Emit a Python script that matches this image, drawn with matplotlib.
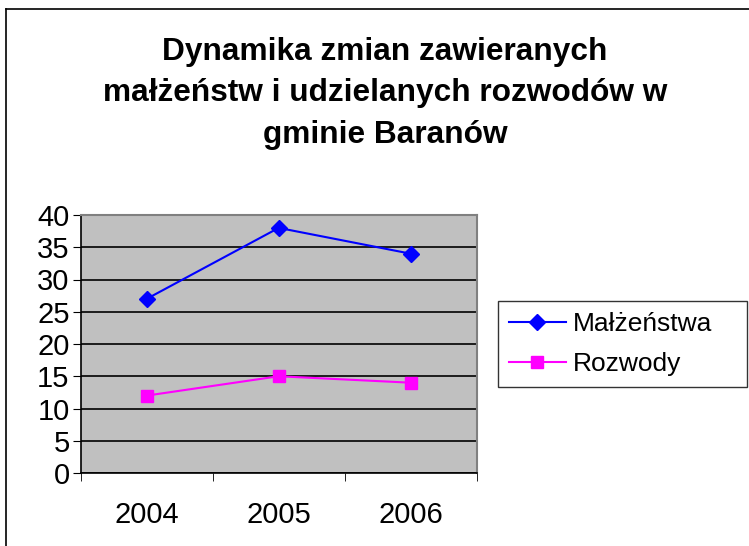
import matplotlib
matplotlib.use("Agg")
import matplotlib.pyplot as plt
from matplotlib.lines import Line2D

plt.rcParams['font.family'] = ['Liberation Sans', 'DejaVu Sans']

# data
years = ["2004", "2005", "2006"]
malzenstwa = [27, 38, 34]
rozwody = [12, 15, 14]
y_ticks = [0, 5, 10, 15, 20, 25, 30, 35, 40]

fig = plt.figure(figsize=(7.49, 5.46), dpi=100)
ax = fig.add_axes([80.7/749, 1 - 473/546, 396/749, 258/546])

ax.set_facecolor('#C0C0C0')
x = list(range(len(years)))
ax.plot(x, malzenstwa, color='#0000FF', linewidth=1.5, marker='D', markersize=8,
        label="Małżeństwa", zorder=3)
ax.plot(x, rozwody, color='#FF00FF', linewidth=1.5, marker='s', markersize=9,
        label="Rozwody", zorder=3)

# axes
ax.set_xlim(-0.5, 2.5)
ax.set_ylim(0, 40)
ax.set_yticks(y_ticks)
ax.set_yticklabels([str(v) for v in y_ticks], fontsize=21)
ax.set_xticks(x)
ax.set_xticklabels(years, fontsize=21)
ax.set_xticks([-0.5, 0.5, 1.5, 2.5], minor=True)
ax.tick_params(axis='x', which='major', length=0, pad=20)
ax.tick_params(axis='x', which='minor', length=6, direction='out', color='black')
ax.tick_params(axis='y', length=6, direction='out', pad=2, color='black')

ax.grid(axis='y', color='black', linewidth=1.2, zorder=1)
ax.set_axisbelow(True)
for s in ['top', 'right']:
    ax.spines[s].set_color('#808080')
    ax.spines[s].set_linewidth(1.5)
for s in ['left', 'bottom']:
    ax.spines[s].set_color('black')
    ax.spines[s].set_linewidth(1.2)

# title
fig.text(385/749, 1 - 93/546,
         "Dynamika zmian zawieranych\nmałżeństw i udzielanych rozwodów w\ngminie Baranów",
         ha='center', va='center', fontsize=22.8, fontweight='bold', linespacing=1.5)

# legend
leg = fig.legend(loc='upper left', bbox_to_anchor=(498/749, 1 - 385/546, 249/749, 84/546),
                 mode='expand', fontsize=19, frameon=True, fancybox=False,
                 edgecolor='black', borderpad=0.42, handlelength=2.15,
                 handletextpad=0.27, labelspacing=0.6, borderaxespad=0)
leg.get_frame().set_linewidth(1.0)

# chart border
fig.add_artist(Line2D([6/749, 6/749], [0, 1 - 9/546], transform=fig.transFigure,
                      color='black', linewidth=1.2))
fig.add_artist(Line2D([6/749, 1], [1 - 9/546, 1 - 9/546], transform=fig.transFigure,
                      color='black', linewidth=1.2))

fig.savefig("out.png", dpi=100)
